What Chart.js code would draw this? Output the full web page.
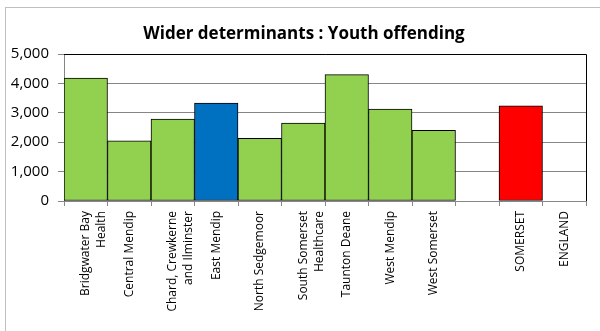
<!DOCTYPE html>
<html>
<head>
<meta charset="utf-8">
<script src="https://cdn.jsdelivr.net/npm/chart.js@4.4.1/dist/chart.umd.min.js"></script>
<style>
body{margin:0;background:#fff}
#wrap{position:relative;width:600px;height:331px}
</style>
</head>
<body>
<div id="wrap"><canvas id="youthChart" width="600" height="331"></canvas></div>
<script>
var chartTitle='Wider determinants : Youth offending'
var areas=[['Bridgwater Bay','Health'],'Central Mendip',['Chard, Crewkerne','and Ilminster'],'East Mendip','North Sedgemoor',['South Somerset','Healthcare'],'Taunton Deane','West Mendip','West Somerset','','SOMERSET','ENGLAND']
var rates=[4180,2050,2790,3330,2130,2650,4300,3130,2400,null,3240,null]
var yTicks=[0,1000,2000,3000,4000,5000]
var highlightArea='East Mendip'
var totalArea='SOMERSET'

var barColours=areas.map(a => {
	if (a==highlightArea) return '#0070C0'
	if (a==totalArea) return '#FF0000'
	return '#92D050'
})

// outer frame, title and plot border
const frame = {
	id:'frame',
	beforeDraw:function(chart){
		var ctx=chart.ctx
		ctx.save()
		ctx.fillStyle='#fff'
		ctx.fillRect(0,0,chart.width,chart.height)
		ctx.strokeStyle='#c0c0c0'
		ctx.lineWidth=1
		ctx.strokeRect(5.5,7.5,800,500)
		ctx.fillStyle='#000'
		ctx.font='bold 17px "Open Sans"'
		ctx.textAlign='center'
		ctx.textBaseline='alphabetic'
		ctx.fillText(chartTitle,304,39)
		ctx.restore()
	},
	afterDatasetsDraw:function(chart){
		var a=chart.chartArea
		var ctx=chart.ctx
		ctx.save()
		ctx.strokeStyle='#000'
		ctx.lineWidth=1
		ctx.beginPath()
		ctx.moveTo(a.left,a.top+0.5)
		ctx.lineTo(a.right+0.5,a.top+0.5)
		ctx.lineTo(a.right+0.5,a.bottom)
		ctx.stroke()
		ctx.restore()
	}
}

new Chart(document.getElementById('youthChart'),{
	type:'bar',
	data:{
		labels:areas,
		datasets:[{
			data:rates,
			backgroundColor:barColours,
			borderColor:'#000',
			borderWidth:1,
			borderSkipped:false,
			barPercentage:1,
			categoryPercentage:1
		}]
	},
	options:{
		responsive:false,
		animation:false,
		layout:{padding:{left:7,right:14,top:54,bottom:0}},
		plugins:{
			legend:{display:false},
			tooltip:{enabled:false},
			title:{display:false}
		},
		scales:{
			x:{
				grid:{display:true,drawOnChartArea:false,color:'#868686',tickLength:5,offset:true},
				border:{color:'#868686'},
				ticks:{
					color:'#000',
					font:{family:'Open Sans',size:12,lineHeight:1.35},
					maxRotation:90,minRotation:90,
					padding:5,
					autoSkip:false
				},
				afterFit:function(s){s.height=130}
			},
			y:{
				min:0,max:5000,
				afterBuildTicks:function(s){s.ticks=yTicks.map(v => ({value:v}))},
				grid:{color:'#868686',tickLength:6},
				border:{color:'#868686'},
				ticks:{
					color:'#000',
					font:{family:'Open Sans',size:15},
					padding:9,
					callback:function(v){return v.toLocaleString('en-GB')}
				},
				afterFit:function(s){s.width=57}
			}
		}
	},
	plugins:[frame]
})
</script>
</body>
</html>
